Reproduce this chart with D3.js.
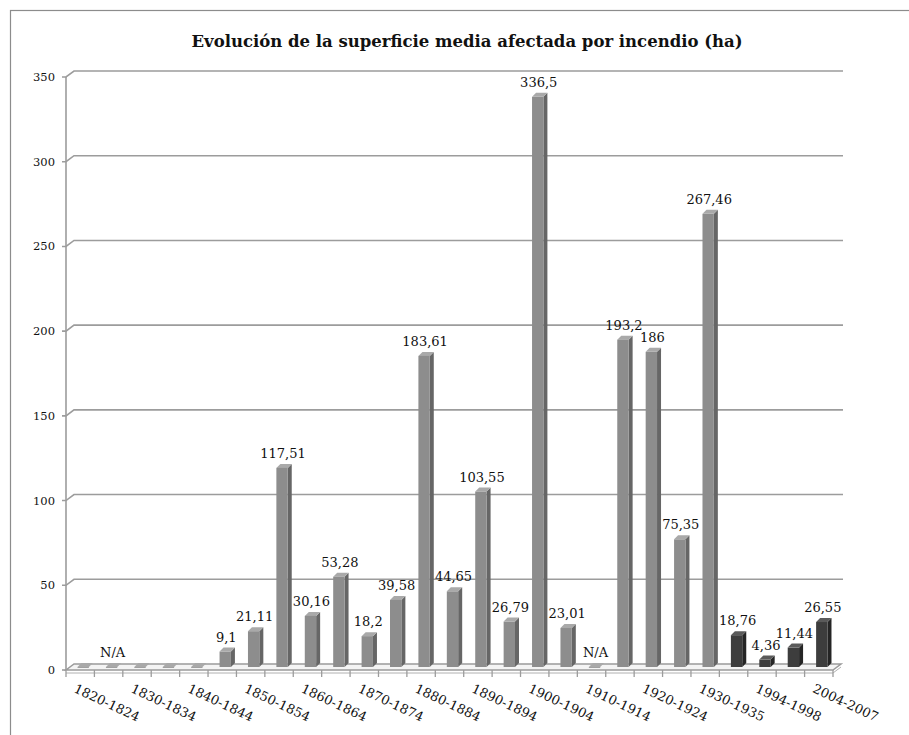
<!DOCTYPE html>
<html>
<head>
<meta charset="utf-8">
<script src="https://cdn.jsdelivr.net/npm/d3@7"></script>
<style>
  body { margin: 0; background: #fff; }
  svg text { font-family: "DejaVu Serif", Georgia, serif; fill: #111; }
</style>
</head>
<body>
<svg id="chart"></svg>
<script>
// periods (every fifth year), only every other one gets an axis label
const categories = [
    '1820-1824', '1825-1829', '1830-1834', '1835-1839', '1840-1844', '1845-1849',
    '1850-1854', '1855-1859', '1860-1864', '1865-1869', '1870-1874', '1875-1879',
    '1880-1884', '1885-1889', '1890-1894', '1895-1899', '1900-1904', '1905-1909',
    '1910-1914', '1915-1919', '1920-1924', '1925-1929', '1930-1935', '1989-1993',
    '1994-1998', '1999-2003', '2004-2007'
];
const values = [
    0, 0, 0, 0, 0, 9.1,
    21.11, 117.51, 30.16, 53.28, 18.2, 39.58,
    183.61, 44.65, 103.55, 26.79, 336.5, 23.01,
    0, 193.2, 186, 75.35, 267.46, 18.76,
    4.36, 11.44, 26.55
];
const naCategories = ['1825-1829', '1910-1914'];
const unlabelledCategories = ['1820-1824', '1830-1834', '1835-1839', '1840-1844'];
const recentCategories = ['1989-1993', '1994-1998', '1999-2003', '2004-2007'];
const axisLabels = categories.filter((c, i) => i % 2 === 0);
const yTicks = [0, 50, 100, 150, 200, 250, 300, 350];
const title = 'Evolución de la superficie media afectada por incendio (ha)';

const width = 909, height = 735;
const plotLeft = 66, plotRight = 833, plotBottom = 670, plotTop = 77;
const wallDx = 8, wallDy = -6;     // back wall offset
const barDx = 4, barDy = -4;       // bar depth

const svg = d3.select('#chart').attr('width', width).attr('height', height);

// outer frame of the chart area
svg.append('rect')
    .attr('x', 10.5).attr('y', 10.5)
    .attr('width', width + 20).attr('height', height + 20)
    .attr('fill', '#fff').attr('stroke', '#8c8c8c').attr('stroke-width', 1.2);

svg.append('text')
    .attr('x', 467).attr('y', 47)
    .attr('text-anchor', 'middle')
    .attr('font-size', 16.5).attr('font-weight', 'bold')
    .text(title);

const x = d3.scaleBand().domain(categories).range([plotLeft, plotRight]);
const y = d3.scaleLinear().domain([0, 350]).range([plotBottom, plotTop]);
const barW = x.bandwidth() * 0.4;

// floor
svg.append('path')
    .attr('d', `M${plotLeft},${plotBottom} L${plotRight},${plotBottom} L${plotRight + wallDx},${plotBottom + wallDy} L${plotLeft + wallDx},${plotBottom + wallDy} Z`)
    .attr('fill', '#f4f4f4').attr('stroke', '#9a9a9a').attr('stroke-width', 1.5);
svg.append('path')
    .attr('d', `M${plotLeft},${plotBottom + 3} L${plotRight},${plotBottom + 3} L${plotRight + wallDx},${plotBottom + wallDy + 3}`)
    .attr('fill', 'none').attr('stroke', '#b0b0b0').attr('stroke-width', 1);

// gridlines on the back wall
svg.append('g').selectAll('path')
    .data(yTicks.filter(d => d > 0))
    .join('path')
    .attr('d', d => `M${plotLeft - 4},${y(d)} L${plotLeft},${y(d)} L${plotLeft + wallDx},${y(d) + wallDy} L${plotRight + wallDx + 2},${y(d) + wallDy}`)
    .attr('fill', 'none').attr('stroke', '#9c9c9c').attr('stroke-width', 1.6);

// y axis
svg.append('line')
    .attr('x1', plotLeft).attr('x2', plotLeft)
    .attr('y1', y(350)).attr('y2', y(0))
    .attr('stroke', '#9c9c9c').attr('stroke-width', 1.6);
svg.append('line')
    .attr('x1', plotLeft - 4).attr('x2', plotLeft)
    .attr('y1', y(0)).attr('y2', y(0))
    .attr('stroke', '#9c9c9c').attr('stroke-width', 1.6);

svg.append('g').selectAll('text')
    .data(yTicks)
    .join('text')
    .attr('x', plotLeft - 11).attr('y', d => y(d) + 4)
    .attr('text-anchor', 'end').attr('font-size', 11.5)
    .text(d => d);

// x ticks between categories
const tickXs = categories.map(c => x(c)).concat([plotRight]);
svg.append('g').selectAll('line')
    .data(tickXs)
    .join('line')
    .attr('x1', d => d).attr('x2', d => d)
    .attr('y1', plotBottom).attr('y2', plotBottom + 7)
    .attr('stroke', '#9c9c9c').attr('stroke-width', 1.3);

svg.append('g').selectAll('text')
    .data(axisLabels)
    .join('text')
    .attr('transform', d => `translate(${x(d) + x.bandwidth() / 2 - 3},${plotBottom + 13}) rotate(25)`)
    .attr('dy', '0.75em')
    .attr('font-size', 13)
    .text(d => d);

// 3D columns
const bars = svg.append('g').selectAll('g')
    .data(categories.map((c, i) => ({ cat: c, value: values[i] })))
    .join('g')
    .attr('transform', d => `translate(${x(d.cat) + (x.bandwidth() - barW) / 2 + 3},-3)`);

const isRecent = d => recentCategories.includes(d.cat);
const frontColor = d => isRecent(d) ? '#3d3d3d' : '#8d8d8d';
const sideColor = d => isRecent(d) ? '#252525' : '#666';
const topColor = d => isRecent(d) ? '#5a5a5a' : '#a9a9a9';

bars.append('path')   // side
    .attr('d', d => `M${barW},${y(d.value)} L${barW + barDx},${y(d.value) + barDy} L${barW + barDx},${y(0) + barDy} L${barW},${y(0)} Z`)
    .attr('fill', sideColor);
bars.append('path')   // top
    .attr('d', d => `M0,${y(d.value)} L${barDx},${y(d.value) + barDy} L${barW + barDx},${y(d.value) + barDy} L${barW},${y(d.value)} Z`)
    .attr('fill', topColor);
bars.append('rect')   // front
    .attr('x', 0).attr('width', barW)
    .attr('y', d => y(d.value))
    .attr('height', d => Math.max(0.8, y(0) - y(d.value)))
    .attr('fill', frontColor);

// value labels
bars.filter(d => !unlabelledCategories.includes(d.cat))
    .append('text')
    .attr('x', barW / 2 + 1)
    .attr('y', d => y(d.value) - 10)
    .attr('text-anchor', 'middle')
    .attr('font-size', 13)
    .text(d => naCategories.includes(d.cat) ? 'N/A' : String(d.value).replace('.', ','));
</script>
</body>
</html>
